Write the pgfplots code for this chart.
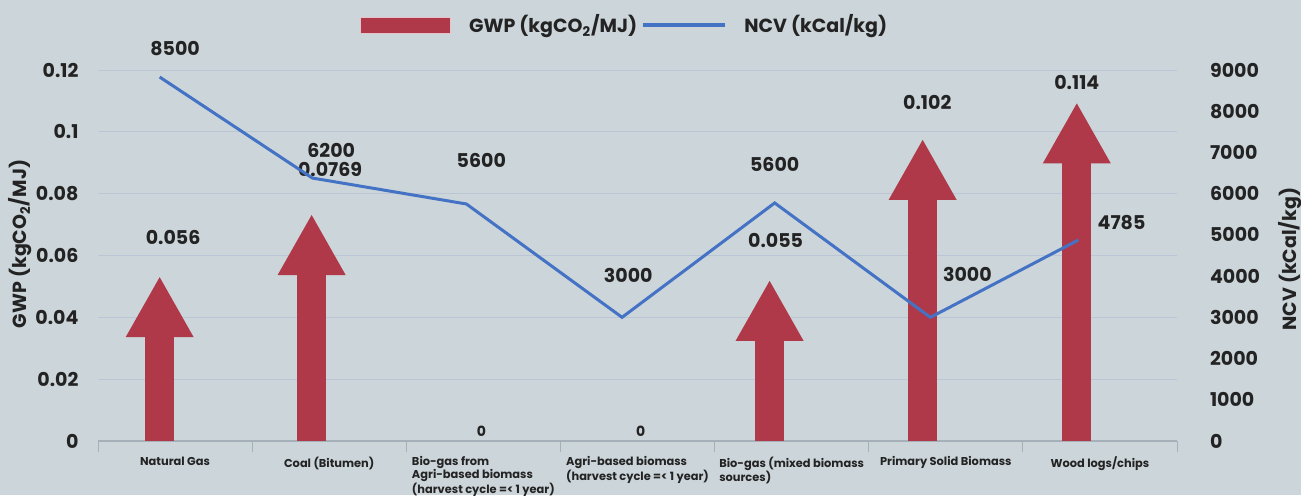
\documentclass[border=0pt]{standalone}
\usepackage{fontspec}
\setmainfont{Poppins}
\usepackage{pgfplots}
\pgfplotsset{compat=1.18}
\usetikzlibrary{arrows.meta}
\definecolor{bg}{RGB}{204,213,217}
\definecolor{arrowred}{RGB}{175,57,72}
\definecolor{pinkb}{RGB}{228,196,202}
\definecolor{lineblue}{RGB}{68,114,196}
\definecolor{gridc}{RGB}{186,197,213}
\definecolor{txt}{RGB}{35,35,35}
\definecolor{tickc}{RGB}{165,176,184}
\begin{document}
\begin{tikzpicture}
\fill[bg] (0,0) rectangle (650.5pt,247.5pt);
\useasboundingbox (0,0) rectangle (650.5pt,247.5pt);
\begin{axis}[
  at={(49pt,27pt)}, anchor=south west,
  scale only axis, width=539.5pt, height=185.5pt,
  xmin=-0.4, xmax=6.6, ymin=0, ymax=0.12,
  clip=false,
  axis x line*=bottom, axis y line*=left,
  x axis line style={draw=tickc, line width=0.6pt},
  y axis line style={draw=none},
  xtick={0.1,1.1,2.1,3.1,4.1,5.1,6.1},
  xticklabels={Natural Gas, Coal (Bitumen), {Bio-gas from\\[-0.6pt]Agri-based biomass\\[-0.6pt](harvest cycle =< 1 year)}, {Agri-based biomass\\[-0.6pt](harvest cycle =< 1 year)}, {Bio-gas (mixed biomass\\[-0.6pt]sources)}, Primary Solid Biomass, Wood logs/chips},
  xticklabel style={font=\bfseries\fontsize{5.7}{6.0}\selectfont, text=txt, align=left, anchor=north, yshift=0pt},
  major x tick style={draw=none},
  minor xtick={-0.4,0.6,1.6,2.6,3.6,4.6,5.6,6.6},
  minor x tick style={draw=tickc, line width=0.5pt},
  minor tick length=5.5pt,
  tick align=outside,
  ytick={0,0.02,0.04,0.06,0.08,0.1,0.12},
  yticklabels={0,0.02,0.04,0.06,0.08,0.1,0.12},
  yticklabel style={font=\bfseries\fontsize{9.5}{11}\selectfont, text=txt, xshift=-2pt},
  major y tick style={draw=none},
  ymajorgrids, grid style={draw=gridc, line width=0.5pt},
  legend style={at={(0.489,1)}, anchor=south, yshift=13pt, draw=none, fill=none,
    font=\bfseries\fontsize{9.5}{11}\selectfont, text=txt, legend columns=2,
    /tikz/every odd column/.append style={column sep=7pt},
    /tikz/every even column/.append style={column sep=0pt}},
]
\addplot[quiver={u=0, v=\thisrow{v}}, draw=arrowred, line width=14.5pt,
  -{Triangle[width=34pt, length=30pt, line width=0pt]},
  legend image code/.code={\fill[arrowred, draw=pinkb, line width=0.5pt] (0pt,-4pt) rectangle (45pt,4pt);}]
  table {
x y v
0.00 0 0.0530
0.986 0 0.0731
3.957 0 0.0518
4.95 0 0.0974
5.95 0 0.1092
};
\addlegendentry{GWP (kgCO\textsubscript{2}/MJ)}
\addlegendimage{legend image code/.code={\draw[lineblue, line width=1.6pt] (0pt,0pt) -- (41pt,0pt);}}
\addlegendentry{NCV (kCal/kg)}
\tikzset{dl/.style={font=\bfseries\fontsize{9.5}{11}\selectfont, text=txt}}
\node[dl] at (axis cs:0.1,0.1268) {8500};
\node[dl] at (axis cs:1.113,0.0941) {6200};
\node[dl] at (axis cs:1.106,0.0877) {0.0769};
\node[dl] at (axis cs:2.087,0.0906) {5600};
\node[dl] at (axis cs:3.04,0.0534) {3000};
\node[font=\bfseries\fontsize{7}{8}\selectfont, text=txt] at (axis cs:2.087,0.0032) {0};
\node[font=\bfseries\fontsize{7}{8}\selectfont, text=txt] at (axis cs:3.12,0.0032) {0};
\node[dl] at (axis cs:0.087,0.0657) {0.056};
\node[dl] at (axis cs:3.99,0.0896) {5600};
\node[dl] at (axis cs:3.996,0.065) {0.055};
\node[dl] at (axis cs:5.24,0.054) {3000};
\node[dl] at (axis cs:6.24,0.0708) {4785};
\node[dl] at (axis cs:4.98,0.1096) {0.102};
\node[dl] at (axis cs:5.95,0.1161) {0.114};
\node[dl, rotate=90] at (axis description cs:-0.0723,0.531) {GWP (kgCO\textsubscript{2}/MJ)};
\node[dl, rotate=90] at (axis description cs:1.1047,0.49) {NCV (kCal/kg)};
\end{axis}
\begin{axis}[
  at={(49pt,27pt)}, anchor=south west,
  scale only axis, width=539.5pt, height=185.5pt,
  xmin=-0.4, xmax=6.6, ymin=0, ymax=9000,
  axis x line=none, axis y line*=right,
  y axis line style={draw=none},
  ytick={0,1000,2000,3000,4000,5000,6000,7000,8000,9000},
  yticklabels={0,1000,2000,3000,4000,5000,6000,7000,8000,9000},
  yticklabel style={font=\bfseries\fontsize{9.5}{11}\selectfont, text=txt, anchor=west, xshift=13pt},
  major y tick style={draw=none},
]
\addplot[lineblue, line width=1.5pt, mark=none] coordinates {
(0.00,8830) (0.99,6380) (1.99,5750) (3.00,3000) (3.99,5775) (5.00,3000) (5.96,4876)
};
\end{axis}
\end{tikzpicture}
\end{document}
